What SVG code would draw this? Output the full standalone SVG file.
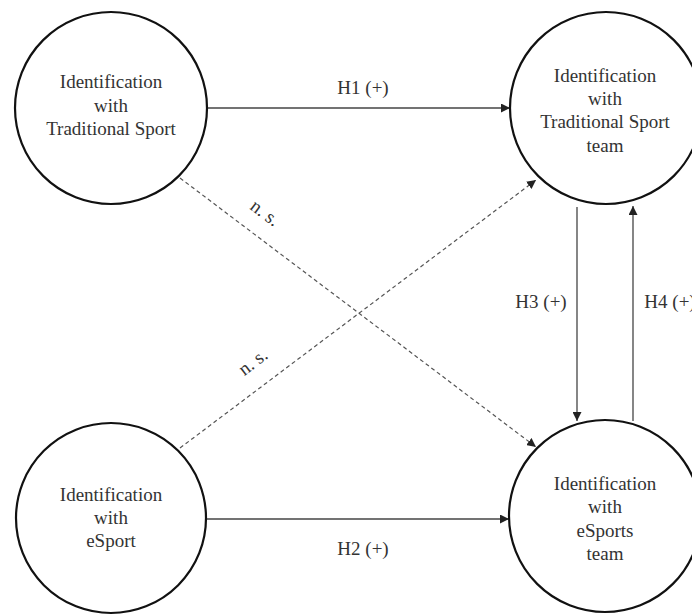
<svg xmlns="http://www.w3.org/2000/svg" width="692" height="615" viewBox="0 0 692 615">
<style>
.node circle{fill:#fff;stroke:#111;stroke-width:2.2}
text{font-family:"Liberation Serif","Times New Roman",serif;font-size:19px;fill:#333;text-anchor:middle}
.solid{stroke:#444;stroke-width:1.3;fill:none}
.dash{stroke:#555;stroke-width:1.2;fill:none;stroke-dasharray:4 3}
</style>
<defs>
<marker id="ah" viewBox="0 0 10 10" refX="10" refY="5" markerWidth="9" markerHeight="9" markerUnits="userSpaceOnUse" orient="auto">
<path d="M0,0 L10,5 L0,10 z" fill="#222"/>
</marker>
</defs>
<rect width="692" height="615" fill="#fff"/>
<g id="connectors">
<line class="solid" x1="207" y1="108" x2="510" y2="108" marker-end="url(#ah)"/>
<line class="solid" x1="207" y1="519" x2="509" y2="519" marker-end="url(#ah)"/>
<line class="solid" x1="577" y1="207" x2="577" y2="421" marker-end="url(#ah)"/>
<line class="solid" x1="633" y1="421" x2="633" y2="206" marker-end="url(#ah)"/>
<line class="dash" x1="180" y1="178" x2="536" y2="447" marker-end="url(#ah)"/>
<line class="dash" x1="180" y1="448" x2="536" y2="180" marker-end="url(#ah)"/>
<text x="363" y="94">H1 (+)</text>
<text x="363" y="555">H2 (+)</text>
<text x="541" y="308">H3 (+)</text>
<text x="670" y="308">H4 (+)</text>
<text transform="translate(265,213) rotate(37)" y="6">n. s.</text>
<text transform="translate(253,362) rotate(-37)" y="6">n. s.</text>
</g>
<g id="n1" class="node">
<circle cx="111" cy="108" r="96"/>
<text x="111" y="88">Identification</text>
<text x="111" y="112">with</text>
<text x="111" y="135">Traditional Sport</text>
</g>
<g id="n2" class="node">
<circle cx="606" cy="108" r="96"/>
<text x="605" y="82">Identification</text>
<text x="605" y="105">with</text>
<text x="605" y="128">Traditional Sport</text>
<text x="605" y="152">team</text>
</g>
<g id="n3" class="node">
<circle cx="111" cy="518" r="95"/>
<text x="111" y="501">Identification</text>
<text x="111" y="524">with</text>
<text x="111" y="547">eSport</text>
</g>
<g id="n4" class="node">
<circle cx="605" cy="516" r="96"/>
<text x="605" y="490">Identification</text>
<text x="605" y="513">with</text>
<text x="605" y="537">eSports</text>
<text x="605" y="560">team</text>
</g>
</svg>
